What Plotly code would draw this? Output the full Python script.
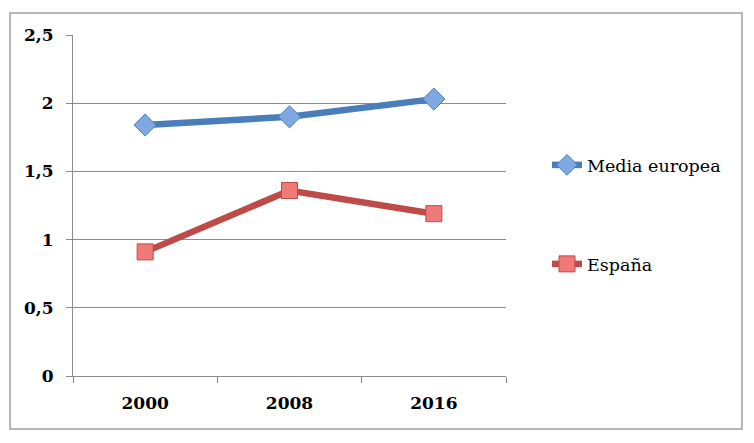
import plotly.graph_objects as go

years = ["2000", "2008", "2016"]
media_europea = [1.84, 1.90, 2.03]
espana = [0.91, 1.36, 1.19]
y_ticks = [0, 0.5, 1, 1.5, 2, 2.5]
y_tick_labels = ["0", "0,5", "1", "1,5", "2", "2,5"]

fig = go.Figure()
fig.add_trace(go.Scatter(
    x=years, y=media_europea, name="Media europea", mode="lines+markers",
    line=dict(color="#4a7ebb", width=6.5),
    marker=dict(symbol="diamond", size=17, color="#7fa8e2", line=dict(color="#4a7ebb", width=1)),
    legend="legend", showlegend=True,
))
fig.add_trace(go.Scatter(
    x=years, y=espana, name="España", mode="lines+markers",
    line=dict(color="#be4b48", width=6.5),
    marker=dict(symbol="square", size=16, color="#f07a78", line=dict(color="#be4b48", width=1)),
    legend="legend2", showlegend=True,
))

# page body offset of the rendered html (8px)
OFF = 8
W, H = 754 - OFF, 443 - OFF
L, R, T, B = 73 - OFF, 248, 35 - OFF, 67
pw = W - L - R
ph = H - T - B

def px_x(x):
    return (x - OFF - L) / pw

def px_y(y):
    return (H - B - (y - OFF)) / ph

fig.update_layout(
    width=W, height=H,
    margin=dict(l=L, r=R, t=T, b=B),
    paper_bgcolor="white", plot_bgcolor="white",
    separators=", ",
    showlegend=True,
    font=dict(family="DejaVu Serif", color="black"),
    legend=dict(x=px_x(547), y=px_y(165), xanchor="left", yanchor="middle",
                font=dict(family="DejaVu Serif", size=17.5, color="black"),
                bgcolor="rgba(0,0,0,0)"),
    legend2=dict(x=px_x(547), y=px_y(264), xanchor="left", yanchor="middle",
                 font=dict(family="DejaVu Serif", size=17.5, color="black"),
                 bgcolor="rgba(0,0,0,0)"),
    xaxis=dict(
        type="category", range=[-0.5, 2.5],
        showline=True, linecolor="#8c8c8c", linewidth=1,
        ticks="outside", tickson="boundaries", ticklen=6, tickcolor="#8c8c8c",
        showgrid=False, ticklabelstandoff=12,
        tickfont=dict(family="DejaVu Serif", size=17, color="black", weight="bold"),
    ),
    yaxis=dict(
        range=[0, 2.5], tickvals=y_ticks, ticktext=y_tick_labels,
        showline=True, linecolor="#8c8c8c", linewidth=1,
        ticks="outside", ticklen=6, tickcolor="#8c8c8c",
        showgrid=True, gridcolor="#8c8c8c", gridwidth=1, zeroline=False,
        ticklabelstandoff=9,
        tickfont=dict(family="DejaVu Serif", size=17, color="black", weight="bold"),
    ),
)

fig.add_shape(type="rect", xref="paper", yref="paper",
              x0=px_x(10), x1=px_x(742), y0=px_y(429), y1=px_y(13),
              line=dict(color="#a0a0a0", width=1.5), fillcolor="rgba(0,0,0,0)", layer="below")

fig.write_html("out.html")
